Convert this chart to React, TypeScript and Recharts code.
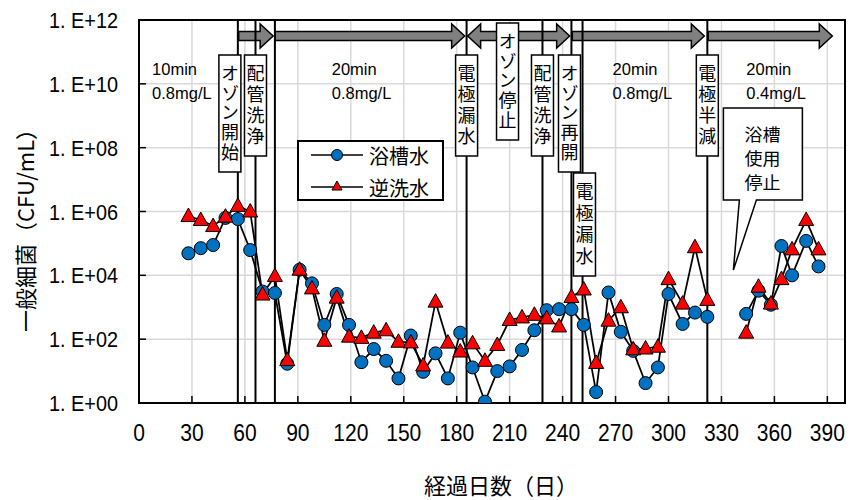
import React from 'react';
import { LineChart, Line, XAxis, YAxis, CartesianGrid, ReferenceLine, ReferenceArea, Legend } from 'recharts';

// ---- data ----
const days = [28, 35, 42, 49, 56, 63, 70, 77, 84, 91, 98, 105, 112, 119, 126, 133, 140, 147, 154, 161, 168, 175, 182, 189, 196, 203, 210, 217, 224, 231, 238, 245, 252, 259, 266, 273, 280, 287, 294, 300, 308, 315, 322, 344, 351, 358, 364, 370, 378, 385];
const bathWater = [4.9e4, 7.1e4, 8.9e4, 6.3e5, 5.8e5, 6.2e4, 3.1e3, 2.8e3, 17, 1.5e4, 5.6e3, 280, 2.6e3, 280, 19, 49, 21, 5.9, 130, 9.5, 36, 5.9, 160, 13, 1.1, 10, 14, 46, 190, 810, 870, 870, 280, 2.2, 2.9e3, 170, 43, 4.2, 13, 2.6e3, 300, 680, 500, 620, 3.3e3, 1.2e3, 8.3e4, 1.0e4, 1.2e5, 1.9e4];
const backwashWater = [7.2e5, 5.4e5, 3.5e5, 6.9e5, 1.5e6, 1.0e6, 2.5e3, 9.5e3, 22, 1.5e4, 3.9e3, 89, 2.0e3, 120, 110, 160, 190, 83, 79, 15, 1.5e3, 78, 41, 74, 21, 66, 400, 480, 580, 450, 250, 2.1e3, 3.6e3, 18, 380, 1.0e3, 48, 51, 58, 7.6e3, 1.3e3, 7.6e4, 1.7e3, 160, 4.4e3, 1.3e3, 7.6e3, 6.5e4, 5.4e5, 6.5e4];
const gapDays = [333]; // bath not in use: line break
const seriesNames = ['浴槽水', '逆洗水'];
const xTicks = [0, 30, 60, 90, 120, 150, 180, 210, 240, 270, 300, 330, 360, 390];
const yTicks = [1, 1e2, 1e4, 1e6, 1e8, 1e10, 1e12];
const xTitle = '経過日数（日）';
const yTitle = '一般細菌（CFU/mL）';

// events (days)
const eventDays = [56, 66, 77, 185.6, 228.6, 245, 251.3, 322];
const eventLabels = [
  { day: 51.5, text: 'オゾン開始', top: 35, height: 117 },
  { day: 66, text: '配管洗浄', top: 35, height: 101 },
  { day: 185.6, text: '電極漏水', top: 35, height: 101 },
  { day: 208.8, text: 'オゾン停止', top: 3, height: 117 },
  { day: 228.6, text: '配管洗浄', top: 35, height: 101 },
  { day: 243.9, text: 'オゾン再開', top: 35, height: 117 },
  { day: 252.4, text: '電極漏水', top: 153, height: 103 },
  { day: 322, text: '電極半減', top: 35, height: 101 },
];
const arrows = [
  { from: 56.5, to: 76, both: false },
  { from: 77, to: 184.5, both: false },
  { from: 186.2, to: 244, both: true },
  { from: 245.5, to: 320.3, both: false },
  { from: 322.5, to: 392.8, both: false },
];
const conditionNotes = [
  { day: 7.4, lines: ['10min', '0.8mg/L'] },
  { day: 109.2, lines: ['20min', '0.8mg/L'] },
  { day: 268.3, lines: ['20min', '0.8mg/L'] },
  { day: 344.1, lines: ['20min', '0.4mg/L'] },
];
const callout = { day: 331.1, lines: ['浴槽', '使用', '停止'] };

const rows: any[] = days.map((d, i) => ({ day: d, bath: bathWater[i], back: backwashWater[i] }));
gapDays.forEach((g) => rows.push({ day: g, bath: null, back: null }));
rows.sort((a, b) => a.day - b.day);

const BLUE = '#0070C0';
const RED = '#FF0000';
const TICK_FONT = '"Liberation Sans", Arial, sans-serif';
const JP_FONT = '"Noto Sans CJK JP", "Noto Sans", sans-serif';
const NOTE_FONT = '"Liberation Sans", Arial, sans-serif';

const XTick = (props: any) => {
  const { x, y, payload } = props;
  const s = String(payload.value);
  return (
    <g>
      <line x1={x} y1={y} x2={x} y2={y - 7} stroke="#000" strokeWidth={1.5} />
      <text
        x={x - (s.length * 11.7) / 2}
        y={y + 38}
        fontSize={23.5}
        fontFamily={TICK_FONT}
        fill="#000"
        textLength={s.length * 11.7}
        lengthAdjust="spacingAndGlyphs"
      >
        {s}
      </text>
    </g>
  );
};

const YTick = (props: any) => {
  const { x, y, payload } = props;
  const e = Math.round(Math.log10(payload.value));
  const label = `1. E+${String(e).padStart(2, '0')}`;
  return (
    <g>
      <line x1={x} y1={y} x2={x + 7} y2={y} stroke="#000" strokeWidth={1.5} />
      <text
        x={x - 21 - 69}
        y={y + 8}
        fontSize={22.5}
        fontFamily={TICK_FONT}
        fill="#000"
        textLength={69}
        lengthAdjust="spacingAndGlyphs"
      >
        {label}
      </text>
    </g>
  );
};

const TriangleDot = (props: any) => {
  const { cx, cy, index, value } = props;
  if (cx == null || cy == null || value == null || Number.isNaN(cy)) return <g key={`t${index}`} />;
  return (
    <polygon
      key={`t${index}`}
      points={`${cx},${cy - 8} ${cx + 7.5},${cy + 5.5} ${cx - 7.5},${cy + 5.5}`}
      fill={RED}
      stroke="#000"
      strokeWidth={1}
    />
  );
};

const VBox = ({ viewBox, text, top, height }: any) => {
  const cx = viewBox.x;
  const y0 = viewBox.y + top;
  const n = Array.from(text as string).length;
  const step = (height - 38) / (n - 1);
  const fs = 18;
  return (
    <g>
      <rect x={cx - 11} y={y0} width={22} height={height} fill="#fff" stroke="#000" strokeWidth={1.5} />
      <text
        x={cx}
        y={y0 + 18 - fs / 2}
        fontSize={fs}
        fontFamily={JP_FONT}
        fill="#000"
        letterSpacing={step - fs}
        style={{ writingMode: 'vertical-rl' as any }}
      >
        {text}
      </text>
    </g>
  );
};

const NoteText = ({ viewBox, lines }: any) => (
  <text x={viewBox.x} y={viewBox.y + 55} fontSize={16.5} fontFamily={NOTE_FONT} fill="#000">
    {lines.map((l: string, i: number) => (
      <tspan key={i} x={viewBox.x} dy={i === 0 ? 0 : 23.5}>
        {l}
      </tspan>
    ))}
  </text>
);

const Callout = ({ viewBox, lines }: any) => {
  const x = viewBox.x;
  const t = viewBox.y + 88;
  const b = viewBox.y + 180;
  const tipY = viewBox.y + 250;
  const d = `M${x},${t} L${x + 79},${t} L${x + 79},${b} L${x + 33},${b} L${x + 10},${tipY} L${x + 16},${b} L${x},${b} Z`;
  return (
    <g>
      <path d={d} fill="#fff" stroke="#000" strokeWidth={1.5} />
      {lines.map((l: string, i: number) => (
        <text
          key={i}
          x={x + 39 - 18}
          y={viewBox.y + 121 + i * 24}
          fontSize={16.5}
          fontFamily={JP_FONT}
          fill="#000"
          textLength={36}
          lengthAdjust="spacingAndGlyphs"
        >
          {l}
        </text>
      ))}
    </g>
  );
};

const ArrowShape = (props: any) => {
  const { x, y, width, both } = props;
  const cy = y + 16;
  const bh = 4.5;
  const hh = 12;
  const hl = 13;
  const x0 = x;
  const x1 = x + width;
  let d: string;
  if (both) {
    d = `M${x0},${cy} L${x0 + hl},${cy - hh} L${x0 + hl},${cy - bh} L${x1 - hl},${cy - bh} L${x1 - hl},${cy - hh} L${x1},${cy} L${x1 - hl},${cy + hh} L${x1 - hl},${cy + bh} L${x0 + hl},${cy + bh} L${x0 + hl},${cy + hh} Z`;
  } else {
    d = `M${x0},${cy - bh} L${x1 - hl},${cy - bh} L${x1 - hl},${cy - hh} L${x1},${cy} L${x1 - hl},${cy + hh} L${x1 - hl},${cy + bh} L${x0},${cy + bh} Z`;
  }
  return <path d={d} fill="#808080" stroke="#000" strokeWidth={1.5} strokeLinejoin="miter" />;
};

const LegendContent = () => (
  <svg width={148} height={62} style={{ display: 'block' }}>
    <rect x={1} y={1} width={145} height={59} fill="#fff" stroke="#000" strokeWidth={2} />
    <line x1={14} y1={15} x2={66} y2={15} stroke="#000" strokeWidth={1.5} />
    <circle cx={40} cy={15} r={5.5} fill={BLUE} stroke="#000" strokeWidth={1} />
    <text x={72} y={15} dominantBaseline="central" fontSize={20} fontFamily={JP_FONT} fill="#000">{seriesNames[0]}</text>
    <line x1={14} y1={47} x2={66} y2={47} stroke="#000" strokeWidth={1.5} />
    <polygon points="40,41 45,50 35,50" fill={RED} stroke="#000" strokeWidth={1} />
    <text x={72} y={47} dominantBaseline="central" fontSize={20} fontFamily={JP_FONT} fill="#000">{seriesNames[1]}</text>
  </svg>
);

const XTitle = () => (
  <text x={493} y={476} textAnchor="middle" dominantBaseline="central" fontSize={22} fontFamily={JP_FONT} fill="#000">
    {xTitle}
  </text>
);

const YTitle = () => (
  <text x={16} y={217} transform="rotate(-90, 16, 217)" textAnchor="middle" dominantBaseline="central" fontSize={22} fontFamily={JP_FONT} fill="#000">
    {yTitle}
  </text>
);

export default function App() {
  return (
    <LineChart width={849} height={492} data={rows} margin={{ top: 12, right: 12, bottom: 0, left: 0 }}>
      <CartesianGrid stroke="#d9d9d9" strokeWidth={1.5} />
      <XAxis
        dataKey="day"
        type="number"
        domain={[0, 400]}
        ticks={xTicks}
        interval={0}
        allowDataOverflow
        tickSize={0}
        tickMargin={0}
        tick={<XTick />}
        axisLine={{ stroke: '#000', strokeWidth: 2 }}
        height={97}
        label={<XTitle />}
      />
      <YAxis
        type="number"
        scale="log"
        domain={[1, 1e12]}
        ticks={yTicks}
        interval={0}
        allowDataOverflow
        width={131}
        tickSize={0}
        tickMargin={0}
        tick={<YTick />}
        axisLine={{ stroke: '#000', strokeWidth: 2 }}
        label={<YTitle />}
      />
      <ReferenceArea x1={0} x2={400} y1={1} y2={1e12} fill="none" stroke="#000" strokeWidth={2} ifOverflow="visible" />
      {eventDays.map((d, i) => (
        <ReferenceLine key={`ev${i}`} x={d} stroke="#000" strokeWidth={2} />
      ))}
      {arrows.map((a, i) => (
        <ReferenceArea key={`ar${i}`} x1={a.from} x2={a.to} shape={(p: any) => <ArrowShape {...p} both={a.both} />} />
      ))}
      {eventLabels.map((l, i) => (
        <ReferenceLine
          key={`lb${i}`}
          x={l.day}
          stroke="none"
          label={(p: any) => <VBox viewBox={p.viewBox} text={l.text} top={l.top} height={l.height} />}
        />
      ))}
      {conditionNotes.map((n, i) => (
        <ReferenceLine key={`nt${i}`} x={n.day} stroke="none" label={(p: any) => <NoteText viewBox={p.viewBox} lines={n.lines} />} />
      ))}
      <ReferenceLine x={callout.day} stroke="none" label={(p: any) => <Callout viewBox={p.viewBox} lines={callout.lines} />} />
      <Legend
        layout="vertical"
        align="center"
        verticalAlign="middle"
        content={<LegendContent />}
        wrapperStyle={{ position: 'absolute', left: 289, top: 132, width: 148, height: 62 }}
      />
      <Line
        dataKey="bath"
        name={seriesNames[0]}
        stroke="#000"
        strokeWidth={1.75}
        dot={{ r: 6.5, fill: BLUE, stroke: '#000', strokeWidth: 1 }}
        activeDot={false}
        isAnimationActive={false}
      />
      <Line
        dataKey="back"
        name={seriesNames[1]}
        stroke="#000"
        strokeWidth={1.75}
        dot={<TriangleDot />}
        activeDot={false}
        isAnimationActive={false}
      />
    </LineChart>
  );
}
